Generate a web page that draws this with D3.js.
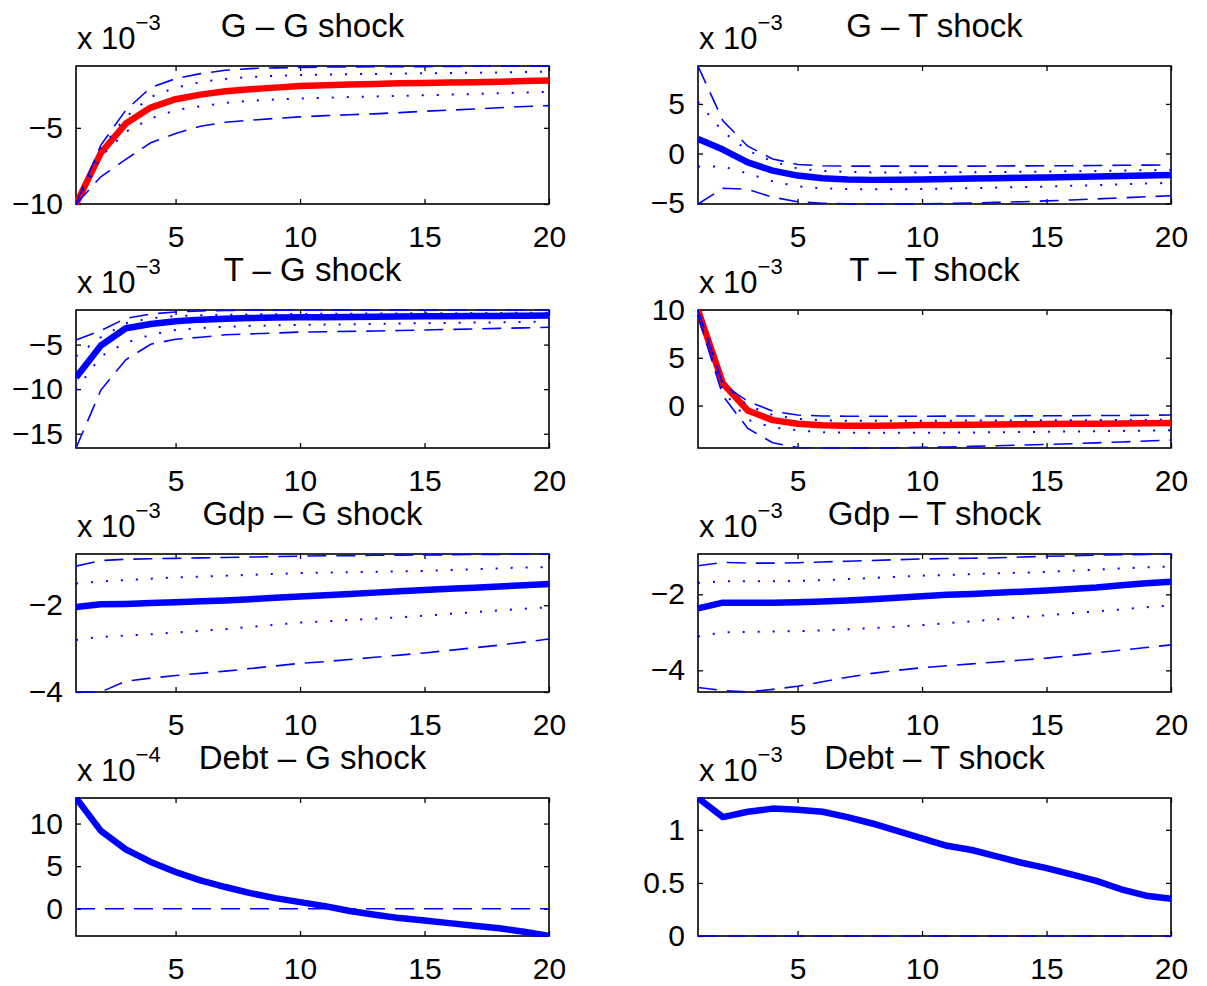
<!DOCTYPE html>
<html><head><meta charset="utf-8">
<script src="https://cdn.jsdelivr.net/npm/d3@7"></script>
<style>
body{margin:0;background:#fff}
text{font-family:"Liberation Sans",Arial,sans-serif;fill:#000}
</style>
</head><body>
<svg id="chart" width="1207" height="986"></svg>
<script>
// ---------- DATA (horizon 1..20) ----------
const periods = d3.range(1, 21);
const xTicks = [5, 10, 15, 20];

// G – G shock (x 1e-3)
const gg_mid  = [-10,-6.64,-4.72,-3.67,-3.12,-2.82,-2.6,-2.47,-2.36,-2.25,-2.2,-2.16,-2.12,-2.08,-2.05,-2.03,-2.0,-1.97,-1.93,-1.9];
const gg_hi90 = [-10,-6.13,-3.84,-2.36,-1.77,-1.44,-1.22,-1.11,-1.06,-1.03,-1.01,-1.0,-0.99,-0.98,-0.98,-0.97,-0.96,-0.95,-0.95,-0.94];
const gg_hi68 = [-10,-6.35,-4.28,-2.97,-2.36,-1.99,-1.79,-1.66,-1.58,-1.53,-1.5,-1.48,-1.46,-1.44,-1.42,-1.4,-1.38,-1.36,-1.33,-1.31];
const gg_lo68 = [-10,-6.9,-5.26,-4.39,-3.84,-3.58,-3.36,-3.22,-3.14,-3.08,-3.03,-2.98,-2.94,-2.9,-2.86,-2.82,-2.78,-2.73,-2.68,-2.64];
const gg_lo90 = [-10,-8.21,-7.07,-5.98,-5.37,-4.89,-4.63,-4.5,-4.38,-4.28,-4.2,-4.14,-4.08,-4.0,-3.91,-3.84,-3.76,-3.68,-3.6,-3.54];
const gg_yticks = [-10, -5];

// G – T shock (x 1e-3)
const gt_mid  = [1.48,0.4,-0.88,-1.72,-2.22,-2.49,-2.62,-2.65,-2.63,-2.6,-2.56,-2.52,-2.48,-2.44,-2.4,-2.35,-2.3,-2.25,-2.2,-2.15];
const gt_hi90 = [8.82,3.3,0.74,-0.54,-1.1,-1.22,-1.26,-1.27,-1.27,-1.27,-1.27,-1.26,-1.25,-1.24,-1.23,-1.22,-1.2,-1.18,-1.16,-1.15];
const gt_hi68 = [5.2,2.2,0.3,-0.8,-1.5,-1.75,-1.85,-1.9,-1.9,-1.9,-1.9,-1.88,-1.86,-1.84,-1.81,-1.78,-1.75,-1.72,-1.68,-1.65];
const gt_lo68 = [-1.3,-1.3,-2.0,-2.8,-3.3,-3.5,-3.58,-3.6,-3.6,-3.57,-3.53,-3.48,-3.43,-3.38,-3.32,-3.25,-3.18,-3.1,-3.02,-2.95];
const gt_lo90 = [-5.08,-3.5,-3.6,-4.4,-4.85,-5.0,-5.06,-5.08,-5.08,-5.06,-5.03,-4.98,-4.92,-4.85,-4.77,-4.67,-4.57,-4.46,-4.35,-4.25];
const gt_yticks = [-5, 0, 5];

// T – G shock (x 1e-3)
const tg_mid  = [-8.7,-5.1,-3.17,-2.69,-2.39,-2.2,-2.09,-2.02,-1.97,-1.94,-1.92,-1.9,-1.88,-1.86,-1.83,-1.81,-1.79,-1.78,-1.76,-1.75];
const tg_hi90 = [-4.48,-3.43,-2.05,-1.57,-1.34,-1.22,-1.17,-1.15,-1.14,-1.14,-1.14,-1.13,-1.13,-1.13,-1.13,-1.12,-1.12,-1.12,-1.12,-1.12];
const tg_hi68 = [-6.3,-4.18,-2.6,-2.05,-1.8,-1.7,-1.65,-1.61,-1.59,-1.57,-1.55,-1.53,-1.51,-1.5,-1.49,-1.48,-1.46,-1.45,-1.43,-1.42];
const tg_lo68 = [-10.1,-6.3,-4.8,-3.9,-3.36,-3.15,-3.0,-2.9,-2.85,-2.8,-2.76,-2.72,-2.68,-2.64,-2.6,-2.56,-2.53,-2.5,-2.46,-2.43];
const tg_lo90 = [-16.6,-10.1,-6.7,-4.96,-4.4,-4.18,-3.9,-3.8,-3.7,-3.6,-3.56,-3.52,-3.47,-3.42,-3.36,-3.3,-3.24,-3.18,-3.12,-3.06];
const tg_yticks = [-15, -10, -5];

// T – T shock (x 1e-3)
const tt_mid  = [10,2.3,-0.52,-1.53,-1.91,-2.08,-2.12,-2.12,-2.1,-2.05,-2.03,-2.01,-1.99,-1.97,-1.94,-1.92,-1.9,-1.88,-1.86,-1.84];
const tt_hi90 = [10,2.2,0.45,-0.6,-1.0,-1.1,-1.12,-1.12,-1.12,-1.12,-1.11,-1.1,-1.1,-1.09,-1.08,-1.07,-1.05,-1.04,-1.02,-1.0];
const tt_hi68 = [10,2.3,0.0,-1.0,-1.4,-1.55,-1.6,-1.6,-1.6,-1.6,-1.59,-1.58,-1.57,-1.56,-1.55,-1.54,-1.53,-1.52,-1.51,-1.5];
const tt_lo68 = [9.5,1.5,-1.5,-2.3,-2.6,-2.8,-2.85,-2.86,-2.86,-2.85,-2.84,-2.82,-2.8,-2.78,-2.75,-2.72,-2.69,-2.66,-2.63,-2.6];
const tt_lo90 = [9.4,1.0,-2.4,-3.9,-4.4,-4.45,-4.45,-4.44,-4.42,-4.38,-4.34,-4.28,-4.22,-4.15,-4.08,-4.0,-3.91,-3.82,-3.72,-3.62];
const tt_yticks = [0, 5, 10];

// Gdp – G shock (x 1e-3)
const yg_mid  = [-2.04,-1.98,-1.97,-1.95,-1.93,-1.91,-1.89,-1.86,-1.83,-1.8,-1.77,-1.74,-1.71,-1.68,-1.65,-1.62,-1.6,-1.57,-1.54,-1.51];
const yg_hi90 = [-1.1,-0.97,-0.94,-0.93,-0.92,-0.91,-0.9,-0.89,-0.88,-0.87,-0.86,-0.86,-0.85,-0.85,-0.84,-0.84,-0.83,-0.83,-0.82,-0.82];
const yg_hi68 = [-1.5,-1.45,-1.42,-1.39,-1.36,-1.34,-1.32,-1.3,-1.28,-1.26,-1.25,-1.24,-1.23,-1.22,-1.21,-1.19,-1.17,-1.15,-1.13,-1.12];
const yg_lo68 = [-2.8,-2.73,-2.7,-2.67,-2.63,-2.59,-2.55,-2.5,-2.45,-2.4,-2.37,-2.34,-2.31,-2.28,-2.24,-2.2,-2.16,-2.12,-2.08,-2.05];
const yg_lo90 = [-4.0,-4.0,-3.75,-3.68,-3.62,-3.57,-3.52,-3.46,-3.4,-3.34,-3.3,-3.25,-3.2,-3.15,-3.1,-3.04,-2.98,-2.92,-2.85,-2.78];
const yg_yticks = [-4, -2];

// Gdp – T shock (x 1e-3)
const yt_mid  = [-2.37,-2.22,-2.22,-2.22,-2.21,-2.19,-2.16,-2.13,-2.09,-2.05,-2.01,-1.99,-1.96,-1.93,-1.9,-1.86,-1.82,-1.76,-1.71,-1.67];
const yt_hi90 = [-1.25,-1.16,-1.18,-1.18,-1.17,-1.15,-1.13,-1.11,-1.09,-1.07,-1.06,-1.05,-1.04,-1.02,-1.0,-0.99,-0.97,-0.96,-0.95,-0.94];
const yt_hi68 = [-1.7,-1.66,-1.66,-1.66,-1.65,-1.63,-1.6,-1.57,-1.54,-1.51,-1.49,-1.47,-1.45,-1.43,-1.41,-1.38,-1.35,-1.32,-1.29,-1.27];
const yt_lo68 = [-3.11,-3.0,-2.99,-2.98,-2.97,-2.95,-2.92,-2.89,-2.85,-2.81,-2.76,-2.71,-2.66,-2.6,-2.55,-2.5,-2.45,-2.4,-2.34,-2.29];
const yt_lo90 = [-4.45,-4.53,-4.57,-4.5,-4.42,-4.3,-4.18,-4.08,-4.0,-3.93,-3.88,-3.83,-3.78,-3.73,-3.68,-3.61,-3.54,-3.47,-3.4,-3.33];
const yt_yticks = [-4, -2];

// Debt – G shock (x 1e-4)
const dg_mid  = [13.0,9.14,6.98,5.49,4.31,3.33,2.55,1.84,1.25,0.78,0.31,-0.27,-0.7,-1.1,-1.37,-1.69,-2.0,-2.3,-2.7,-3.2];
const dg_zero = [0,0,0,0,0,0,0,0,0,0,0,0,0,0,0,0,0,0,0,0];
const dg_yticks = [0, 5, 10];

// Debt – T shock (x 1e-3)
const dt_mid  = [1.3,1.12,1.17,1.2,1.19,1.17,1.12,1.06,0.99,0.92,0.85,0.81,0.75,0.69,0.64,0.58,0.52,0.44,0.38,0.35];
const dt_zero = [0,0,0,0,0,0,0,0,0,0,0,0,0,0,0,0,0,0,0,0];
const dt_yticks = [0, 0.5, 1];

const titles = ["G – G shock","G – T shock","T – G shock","T – T shock","Gdp – G shock","Gdp – T shock","Debt – G shock","Debt – T shock"];
const exponents = ["−3","−3","−3","−3","−3","−3","−4","−3"];

// ---------- LAYOUT ----------
const colX = [76, 698];
const axW = 473;
const rowY = [66, 310, 554, 798];
const axH = 138;

const BLUE = "#0000ff", RED = "#ff0000";
const dashed = "19,10", dotted = "2,13";

const panels = [
  {mid: gg_mid, color: RED,  bands: [gg_hi90, gg_lo90], dots: [gg_hi68, gg_lo68], yt: gg_yticks},
  {mid: gt_mid, color: BLUE, bands: [gt_hi90, gt_lo90], dots: [gt_hi68, gt_lo68], yt: gt_yticks},
  {mid: tg_mid, color: BLUE, bands: [tg_hi90, tg_lo90], dots: [tg_hi68, tg_lo68], yt: tg_yticks},
  {mid: tt_mid, color: RED,  bands: [tt_hi90, tt_lo90], dots: [tt_hi68, tt_lo68], yt: tt_yticks},
  {mid: yg_mid, color: BLUE, bands: [yg_hi90, yg_lo90], dots: [yg_hi68, yg_lo68], yt: yg_yticks},
  {mid: yt_mid, color: BLUE, bands: [yt_hi90, yt_lo90], dots: [yt_hi68, yt_lo68], yt: yt_yticks},
  {mid: dg_mid, color: BLUE, bands: [dg_zero], dots: [], yt: dg_yticks},
  {mid: dt_mid, color: BLUE, bands: [dt_zero], dots: [], yt: dt_yticks}
];

const svg = d3.select("#chart");
const fmt = v => (v < 0 ? "−" : "") + String(Math.abs(v));

panels.forEach((p, i) => {
  const col = i % 2, row = Math.floor(i / 2);
  const left = colX[col], top = rowY[row];
  const all = [p.mid, ...p.bands, ...p.dots].flat();
  const x = d3.scaleLinear().domain([1, 20]).range([0, axW]);
  const y = d3.scaleLinear().domain(d3.extent(all)).range([axH, 0]);

  const g = svg.append("g").attr("transform", `translate(${left},${top})`);
  const clipId = "clip" + i;
  g.append("clipPath").attr("id", clipId)
    .append("rect").attr("x", -1).attr("y", -1).attr("width", axW + 2).attr("height", axH + 2);

  const styleAxis = sel => {
    sel.select(".domain").remove();
    sel.selectAll(".tick line").attr("stroke", "#000").attr("stroke-width", 1.3);
    sel.selectAll("text").attr("font-size", 30).attr("font-family", '"Liberation Sans", Arial, sans-serif');
  };
  g.append("g").attr("transform", `translate(0,${axH})`)
    .call(d3.axisBottom(x).tickValues(xTicks).tickSize(-5).tickPadding(22).tickFormat(fmt)).call(styleAxis);
  g.append("g")
    .call(d3.axisTop(x).tickValues(xTicks).tickSize(-5).tickFormat("")).call(styleAxis);
  g.append("g")
    .call(d3.axisLeft(y).tickValues(p.yt).tickSize(-5).tickPadding(13).tickFormat(fmt)).call(styleAxis);
  g.append("g").attr("transform", `translate(${axW},0)`)
    .call(d3.axisRight(y).tickValues(p.yt).tickSize(-5).tickFormat("")).call(styleAxis);
  g.selectAll("text").attr("fill", "#000");

  g.append("rect").attr("width", axW).attr("height", axH)
    .attr("fill", "none").attr("stroke", "#000").attr("stroke-width", 1.6);

  const line = d3.line().x((d, k) => x(periods[k])).y(d => y(d));
  const plot = g.append("g").attr("clip-path", `url(#${clipId})`);

  plot.append("path").datum(p.mid).attr("d", line)
    .attr("fill", "none").attr("stroke", p.color).attr("stroke-width", 6.5)
    .attr("stroke-linejoin", "round");
  p.bands.forEach(b => plot.append("path").datum(b).attr("d", line)
    .attr("fill", "none").attr("stroke", BLUE).attr("stroke-width", 1.6)
    .attr("stroke-dasharray", dashed));
  p.dots.forEach(b => plot.append("path").datum(b).attr("d", line)
    .attr("fill", "none").attr("stroke", BLUE).attr("stroke-width", 2)
    .attr("stroke-dasharray", dotted));

  g.append("text").attr("x", axW / 2).attr("y", -29).attr("text-anchor", "middle")
    .attr("font-size", 33).text(titles[i]);
  const ex = g.append("text").attr("x", 1).attr("y", -17).attr("font-size", 31).text("x 10");
  ex.append("tspan").attr("dy", -19).attr("font-size", 22).text(exponents[i]);
});
</script>
</body></html>
